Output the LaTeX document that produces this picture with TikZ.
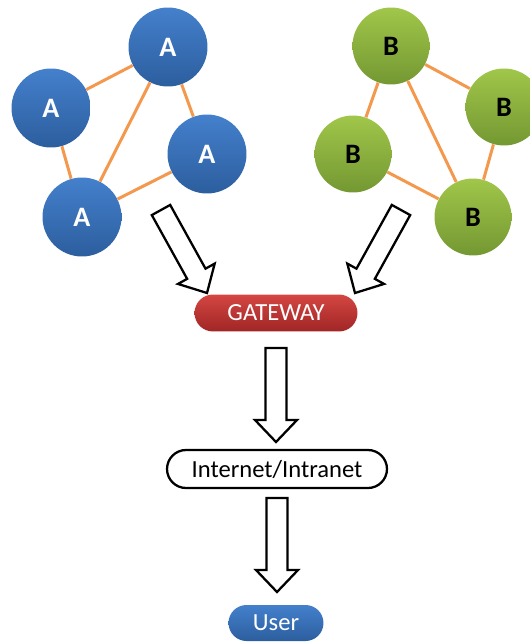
\documentclass[tikz,border=0pt]{standalone}
\usepackage{fontspec}
\setmainfont{Carlito}
\usetikzlibrary{calc}

\definecolor{peerblue}{RGB}{68,128,204}
\definecolor{peerbluedk}{RGB}{44,94,158}
\definecolor{peergreen}{RGB}{160,198,74}
\definecolor{peergreendk}{RGB}{116,152,50}
\definecolor{linkorange}{RGB}{243,152,76}
\definecolor{gatered}{RGB}{212,70,66}
\definecolor{gatereddk}{RGB}{160,38,38}

\tikzset{
  peer/.style={circle, inner sep=0pt, font=\bfseries\fontsize{16}{16}\selectfont},
  peerA/.style={peer, minimum size=1.58cm, top color=peerblue, bottom color=peerbluedk, text=white},
  peerB/.style={peer, minimum size=1.54cm, top color=peergreen, bottom color=peergreendk, text=black},
  link/.style={linkorange, line width=1.7pt},
  pill/.style={rounded corners=0.37cm, inner sep=0pt, font=\fontsize{14}{14}\selectfont},
  hollow/.style={draw=black, fill=white, line width=1.3pt, line join=miter}
}

% hollow block arrow between two named points
\newcommand{\blockarrow}[2]{%
\draw[hollow] ($(#1)!0.21cm!90:(#2)$) -- ($(#2)!0.44cm!(#1)!0.21cm!-90:(#1)$)
  -- ($(#2)!0.44cm!(#1)!0.42cm!-90:(#1)$) -- (#2)
  -- ($(#2)!0.44cm!(#1)!0.42cm!90:(#1)$) -- ($(#2)!0.44cm!(#1)!0.21cm!90:(#1)$)
  -- ($(#1)!0.21cm!-90:(#2)$) -- cycle;}

\begin{document}
\begin{tikzpicture}[x=0.02cm, y=-0.02cm]
\useasboundingbox (0,0) rectangle (530,642);

% cluster A
\node[peerA] (a1) at (168,47)  {A};
\node[peerA] (a2) at (51,108)  {A};
\node[peerA] (a3) at (207,154) {A};
\node[peerA] (a4) at (82,217)  {A};
% cluster B
\node[peerB] (b1) at (391,46)  {B};
\node[peerB] (b2) at (504,107) {B};
\node[peerB] (b3) at (353,154) {B};
\node[peerB] (b4) at (473,217) {B};

\foreach \p/\q in {a1/a2, a1/a4, a1/a3, a2/a4, a3/a4, b1/b3, b1/b2, b1/b4, b2/b4, b3/b4}
{
\draw[link] (\p) -- (\q);
}

\node[pill, minimum width=3.26cm, minimum height=0.74cm, top color=gatered, bottom color=gatereddk, text=white] (gw) at (276,313) {GATEWAY};
\node[pill, draw, line width=1.3pt, minimum width=4.4cm, minimum height=0.76cm, rounded corners=0.38cm] (net) at (277,469) {Internet/Intranet};
\node[pill, minimum width=1.9cm, minimum height=0.72cm, rounded corners=0.36cm, top color=peerblue, bottom color=peerbluedk, text=white] (user) at (276,623) {User};

\coordinate (fromA) at (161,210);  \coordinate (toA) at (207,293);
\coordinate (fromB) at (401,210);  \coordinate (toB) at (355,293);
\coordinate (fromgw) at (276,348); \coordinate (togw) at (276,442);
\coordinate (fromnet) at (277,498); \coordinate (tonet) at (277,592);
\blockarrow{fromA}{toA}
\blockarrow{fromB}{toB}
\blockarrow{fromgw}{togw}
\blockarrow{fromnet}{tonet}
\end{tikzpicture}
\end{document}
